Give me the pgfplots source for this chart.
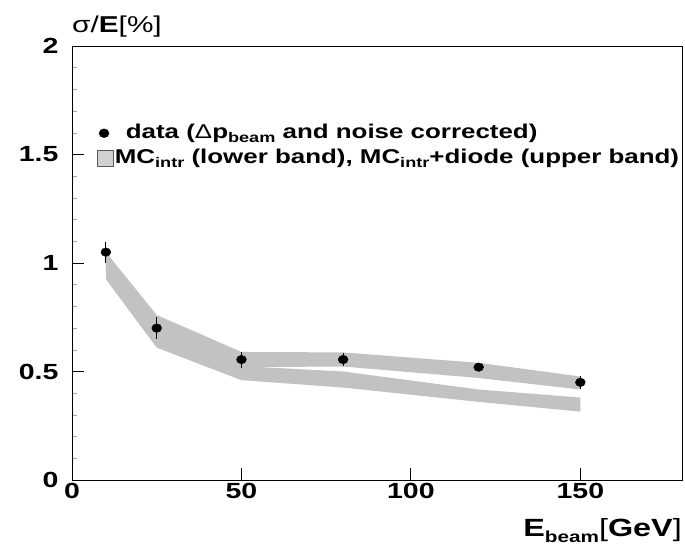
\documentclass[border=0pt]{standalone}
\usepackage{fontspec}
\setmainfont{Liberation Sans}[FakeStretch=1.3]
\usepackage{pgfplots}
\pgfplotsset{compat=1.18}
\newcommand{\sub}[1]{\raisebox{-0.4ex}{\fontsize{14}{14}\selectfont\bfseries #1}}
\newcommand{\subx}[1]{\raisebox{-0.4ex}{\fontsize{16}{16}\selectfont\bfseries #1}}
\begin{document}
\begin{tikzpicture}
\path[use as bounding box] (0,0) rectangle (685bp,554bp);
\begin{axis}[
  at={(72bp,74bp)}, anchor=south west,
  scale only axis, width=610bp, height=434bp,
  xmin=0, xmax=180, ymin=0, ymax=2,
  xtick={0,50,100,150}, ytick={0,0.5,1,1.5,2},
  minor ytick={0.1,0.2,0.3,0.4,0.6,0.7,0.8,0.9,1.1,1.2,1.3,1.4,1.6,1.7,1.8,1.9},
  minor tick length=5bp,
  minor tick style={black!35, line width=0.5bp},
  /pgf/number format/assume math mode=true,
  xtick pos=bottom, ytick pos=left,
  tick align=inside,
  major tick length=12bp,
  major tick style={black, line width=0.8bp},
  ticklabel style={font=\fontsize{22}{22}\selectfont\bfseries},
  yticklabel style={xshift=-10bp},
  axis line style={line width=0.8bp},
  xlabel={\bfseries E\subx{beam}{\mdseries[}GeV{\mdseries]}},
  xlabel style={at={(axis description cs:1.0,-0.131)}, anchor=base east, inner sep=0pt, font=\fontsize{25}{25}\selectfont},
  ylabel={{\mdseries σ/}\textbf{E}[\%]},
  ylabel style={at={(axis description cs:0,1.032)}, anchor=base west, rotate=-90, inner sep=0pt, font=\fontsize{23}{23}\selectfont},
  legend style={at={(axis cs:7.4,1.645)}, anchor=north west, draw=none, fill=none,
    inner sep=0pt, row sep=5bp, font=\fontsize{20}{20}\selectfont\bfseries,
    nodes={inner xsep=1bp, inner ysep=0bp, text height=15bp, text depth=5bp}},
  legend cell align=left,
]
\addlegendimage{legend image code/.code={\path[draw=none, fill=none] (0bp,-8bp) rectangle (16bp,8bp);\fill[black] (6.5bp,0bp) ellipse [x radius=5bp, y radius=4.4bp];}}
\addlegendentry{\hspace{11bp}data ({\mdseries Δ}p\sub{beam} and noise corrected)}
\addlegendimage{legend image code/.code={\draw[black!65, fill=black!18, line width=0.6bp] (0bp,-8bp) rectangle (16bp,8bp);}}
\addlegendentry{MC\sub{intr} (lower band), MC\sub{intr}+diode (upper band)}
% lower band (MC intr)
\addplot[fill=black!24, draw=none, forget plot] coordinates {
 (10,0.925) (25,0.61) (50,0.46) (80,0.426) (120,0.36) (150,0.315)
 (150,0.38) (120,0.417) (80,0.50) (50,0.525) (25,0.70) (10,1.01)} -- cycle;
% upper band (MC intr + diode)
\addplot[fill=black!24, draw=none, forget plot] coordinates {
 (10,0.96) (25,0.655) (50,0.52) (80,0.523) (120,0.47) (150,0.417)
 (150,0.477) (120,0.54) (80,0.588) (50,0.59) (25,0.76) (10,1.05)} -- cycle;
% data
\addplot[only marks, mark=*, mark size=4.3bp, mark options={xscale=1.15, fill=black, draw=black}, forget plot,
  error bars/.cd, y dir=both, y explicit, error mark=none,
  error bar style={line width=0.8bp, black}] coordinates {
 (10,1.05) +- (0,0.048)
 (25,0.70) +- (0,0.05)
 (50,0.555) +- (0,0.037)
 (80,0.555) +- (0,0.028)
 (120,0.52) +- (0,0.015)
 (150,0.45) +- (0,0.03)
};
\end{axis}
\end{tikzpicture}
\end{document}
